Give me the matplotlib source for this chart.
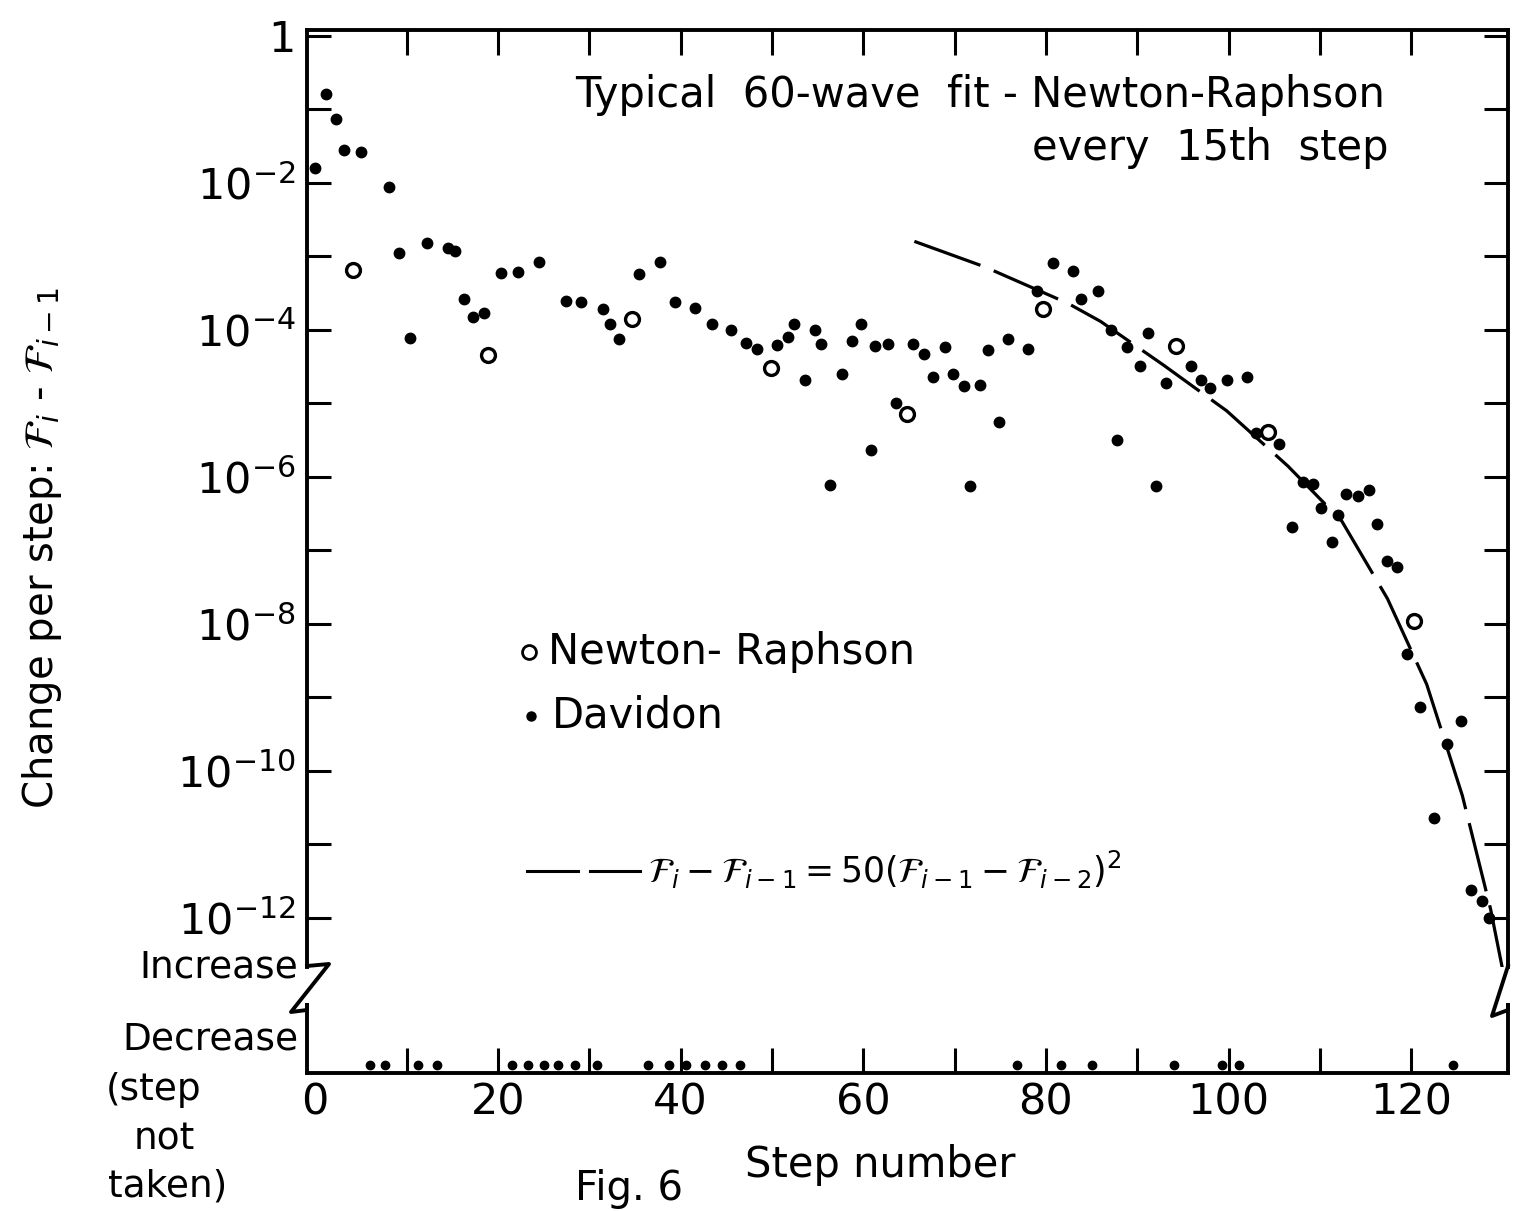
import matplotlib
matplotlib.use("Agg")
import matplotlib.pyplot as plt
from matplotlib.lines import Line2D
from matplotlib.ticker import NullLocator

W, H = 1514, 1211

# Davidon steps (increase in F), log scale panel
davidon_step = [0.0, 1.2, 2.3, 3.1, 5.0, 8.1, 9.2, 10.4, 12.2, 14.5, 15.3, 16.3, 17.3, 18.5,
                20.3, 22.2, 24.5, 27.5, 29.1, 31.5, 32.3, 33.3, 35.4, 37.7, 39.4, 41.6, 43.4,
                45.5, 47.2, 48.4, 50.6, 51.8, 52.4, 53.6, 54.7, 55.4, 56.4, 57.7, 58.8, 59.8,
                60.8, 61.3, 62.7, 63.6, 65.5, 66.7, 67.6, 69.0, 69.8, 71.0, 71.7, 72.8, 73.7,
                74.9, 75.9, 78.0, 79.0, 80.8, 83.0, 83.9, 85.7, 87.1, 87.8, 88.9, 90.3, 91.2,
                92.1, 93.2, 95.9, 97.0, 98.0, 99.8, 102.0, 103.0, 105.5, 107.0, 108.1, 109.3,
                110.1, 111.3, 112.0, 112.9, 114.2, 115.4, 116.3, 117.4, 118.5, 119.5, 121.0,
                122.5, 123.9, 125.5, 126.6, 127.8, 128.5]
davidon_change = [1.6e-2, 1.6e-1, 7.4e-2, 2.8e-2, 2.6e-2, 8.9e-3, 1.1e-3, 7.8e-5, 1.5e-3,
                  1.3e-3, 1.2e-3, 2.6e-4, 1.5e-4, 1.7e-4, 6.0e-4, 6.2e-4, 8.5e-4, 2.5e-4,
                  2.4e-4, 1.9e-4, 1.2e-4, 7.6e-5, 5.8e-4, 8.5e-4, 2.4e-4, 2.0e-4, 1.2e-4,
                  1.0e-4, 6.6e-5, 5.5e-5, 6.3e-5, 7.9e-5, 1.2e-4, 2.1e-5, 9.8e-5, 6.5e-5,
                  7.8e-7, 2.5e-5, 7.1e-5, 1.2e-4, 2.3e-6, 6.0e-5, 6.5e-5, 1.0e-5, 6.5e-5,
                  4.7e-5, 2.3e-5, 5.9e-5, 2.5e-5, 1.7e-5, 7.6e-7, 1.8e-5, 5.4e-5, 5.6e-6,
                  7.6e-5, 5.5e-5, 3.4e-4, 8.1e-4, 6.3e-4, 2.6e-4, 3.4e-4, 1.0e-4, 3.2e-6,
                  5.9e-5, 3.2e-5, 9.1e-5, 7.6e-7, 1.9e-5, 3.2e-5, 2.1e-5, 1.6e-5, 2.1e-5,
                  2.3e-5, 3.9e-6, 2.8e-6, 2.1e-7, 8.5e-7, 7.9e-7, 3.8e-7, 1.3e-7, 3.0e-7,
                  5.9e-7, 5.5e-7, 6.6e-7, 2.3e-7, 7.2e-8, 6.0e-8, 3.9e-9, 7.4e-10, 2.3e-11,
                  2.3e-10, 4.7e-10, 2.4e-12, 1.7e-12, 1.0e-12]

# Newton-Raphson steps
nr_step = [4.1, 18.9, 34.7, 49.9, 64.8, 79.7, 94.2, 104.3, 120.3]
nr_change = [6.6e-4, 4.6e-5, 1.4e-4, 3.0e-5, 7.2e-6, 1.9e-4, 6.0e-5, 4.1e-6, 1.1e-8]

# quadratic convergence reference curve
quad_step = [65.6, 73.3, 82.4, 86.0, 92.9, 99.8, 106.5, 112.4, 117.4, 121.7, 125.6, 128.7, 130.3]
quad_change = [1.6e-3, 7.2e-4, 2.3e-4, 1.3e-4, 3.3e-5, 7.9e-6, 1.4e-6, 2.5e-7, 2.2e-8,
               1.5e-9, 4.6e-11, 1.3e-12, 1.3e-13]

# steps not taken (decrease)
decrease_step = [6.0, 7.6, 11.2, 13.3, 21.5, 23.3, 25.1, 26.6, 28.4, 30.9, 36.4, 38.7, 40.6,
                 42.7, 44.5, 46.5, 76.8, 81.7, 85.1, 94.0, 99.3, 101.1, 124.6]

ydecades = list(range(0, 13))
xticks = list(range(0, 121, 10))


def fx(px):
    return px / W


def fy(py):
    return 1 - py / H


plt.rcParams['font.family'] = ['DejaVu Sans']
plt.rcParams['mathtext.fontset'] = 'dejavusans'

fig = plt.figure(figsize=(W / 100, H / 100), dpi=100)
left, right = 307, 1508
ax = fig.add_axes([fx(left), fy(967), fx(right) - fx(left), fy(30) - fy(967)])
axb = fig.add_axes([fx(left), fy(1073), fx(right) - fx(left), fy(1005) - fy(1073)])

xlim = (-0.9, 130.6)

# upper panel
ax.plot(quad_step, quad_change, color='black', lw=2.3, dashes=(22, 4.5))
ax.plot(davidon_step, davidon_change, 'o', color='black', ms=7.5, ls='none')
ax.plot(nr_step, nr_change, 'o', mfc='white', mec='black', mew=2.4, ms=10, ls='none')
ax.set_yscale('log')
ax.set_xlim(*xlim)
ax.set_ylim(10 ** -12.67, 10 ** 0.08)
ax.spines['bottom'].set_visible(False)
for s in ['top', 'left', 'right']:
    ax.spines[s].set_linewidth(2.8)
ax.set_yticks([10.0 ** -k for k in ydecades])
ax.set_yticklabels(['1' if k == 0 else (f'$10^{{-{k}}}$' if k % 2 == 0 else '')
                    for k in ydecades])
ax.yaxis.set_minor_locator(NullLocator())
ax.tick_params(axis='y', which='major', direction='in', length=17, width=2.2,
               left=True, right=True, labelsize=31, pad=8)
ax.set_xticks(xticks[1:])
ax.tick_params(axis='x', direction='in', top=True, bottom=False, labelbottom=False,
               length=18, width=2.2)

# lower panel
axb.plot(decrease_step, [0.12] * len(decrease_step), 'o', color='black', ms=6, ls='none')
axb.set_xlim(*xlim)
axb.set_ylim(0, 1)
axb.spines['top'].set_visible(False)
for s in ['bottom', 'left', 'right']:
    axb.spines[s].set_linewidth(2.8)
axb.set_yticks([])
axb.set_xticks(xticks)
axb.set_xticklabels([str(t) if t % 20 == 0 else '' for t in xticks])
axb.tick_params(axis='x', direction='in', length=18, width=2.2, labelsize=31, pad=6)
axb.xaxis.get_major_ticks()[0].tick1line.set_visible(False)

# axis breaks
lw = 2.8
fig.add_artist(Line2D([fx(307), fx(329), fx(291), fx(307), fx(307)],
                      [fy(966), fy(964), fy(1012), fy(1010), fy(1005)],
                      color='black', lw=lw, transform=fig.transFigure))
fig.add_artist(Line2D([fx(1508), fx(1492), fx(1508), fx(1508)],
                      [fy(966), fy(1016), fy(1010), fy(1005)],
                      color='black', lw=lw, transform=fig.transFigure))

# texts
fig.text(fx(575), fy(95), 'Typical  60-wave  fit - Newton-Raphson', fontsize=30,
         ha='left', va='center')
fig.text(fx(1388), fy(148), 'every  15th  step', fontsize=30, ha='right', va='center')
fig.text(fx(42), fy(548), r'Change per step: $\mathcal{F}_i$ - $\mathcal{F}_{i-1}$',
         fontsize=29, rotation=90, ha='center', va='center')
fig.text(fx(880), fy(1165), 'Step number', fontsize=30, ha='center', va='center')
fig.text(fx(298), fy(968), 'Increase', fontsize=27, ha='right', va='center')
fig.text(fx(298), fy(1040), 'Decrease', fontsize=27, ha='right', va='center')
fig.text(fx(106), fy(1090), '(step', fontsize=27, ha='left', va='center')
fig.text(fx(134), fy(1140), 'not', fontsize=27, ha='left', va='center')
fig.text(fx(108), fy(1187), 'taken)', fontsize=27, ha='left', va='center')
fig.text(fx(575), fy(1209), 'Fig. 6', fontsize=29, ha='left', va='bottom')

# legend
fig.add_artist(Line2D([fx(529)], [fy(652)], marker='o', mfc='white', mec='black',
                      mew=2.0, ms=10, transform=fig.transFigure))
fig.text(fx(548), fy(652), 'Newton- Raphson', fontsize=30, ha='left', va='center')
fig.add_artist(Line2D([fx(531)], [fy(716)], marker='o', color='black', ms=6.5,
                      transform=fig.transFigure))
fig.text(fx(552), fy(716), 'Davidon', fontsize=30, ha='left', va='center')

for x0, x1 in [(527, 578), (590, 640)]:
    fig.add_artist(Line2D([fx(x0), fx(x1)], [fy(871), fy(871)], color='black', lw=2.2,
                          transform=fig.transFigure))
fig.text(fx(648), fy(870),
         r'$\mathcal{F}_i - \mathcal{F}_{i-1} = 50(\mathcal{F}_{i-1} - \mathcal{F}_{i-2})^2$',
         fontsize=25, ha='left', va='center')

fig.savefig('out.png', dpi=100)
